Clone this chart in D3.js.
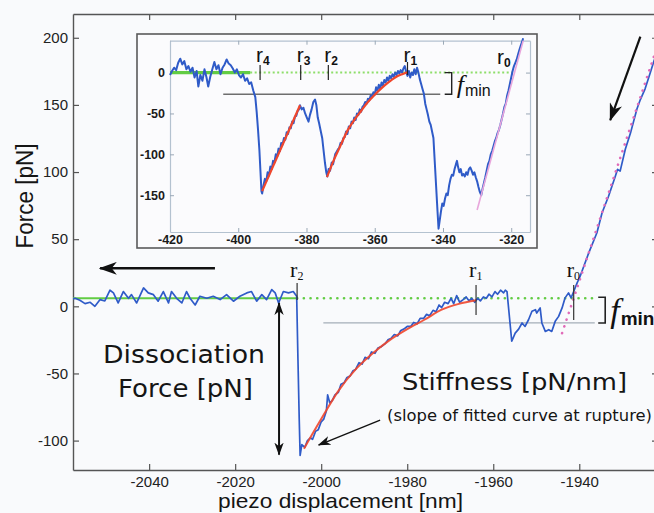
<!DOCTYPE html>
<html>
<head>
<meta charset="utf-8">
<script src="https://cdn.jsdelivr.net/npm/d3@7"></script>
<style>
  html, body { margin: 0; padding: 0; background: #f9fafc; }
  svg { display: block; }
  .tick text { font-family: "Liberation Sans", Arial, sans-serif; }
</style>
</head>
<body>
<script>
// ---- main curve data (piezo displacement nm, force pN) ----
const mainBaseline = [
  [-2058.4, 5], [-2057.2, 6], [-2056.1, 4.5], [-2054.9, 2], [-2053.7, 3], [-2052.6, 0],
  [-2051.4, 5], [-2050.3, 4], [-2049.1, 12], [-2048.3, 10], [-2047.2, 2.5], [-2046, 11],
  [-2044.8, 6], [-2044.1, 8.7], [-2042.9, 2.5], [-2041.3, 13.7], [-2040.2, 10], [-2039, 8.7],
  [-2037.9, 3.8], [-2036.7, 11], [-2035.5, 2.5], [-2034.8, 11], [-2033.6, 6], [-2032.4, 2.5],
  [-2031.3, 11], [-2030.5, 6], [-2029.3, 1], [-2028.2, 7.5], [-2026.6, 6], [-2025.1, 7.5],
  [-2023.5, 5], [-2022, 8.7], [-2020.4, 3.8], [-2018.9, 7.5], [-2017.3, 10], [-2016.2, 11],
  [-2015, 3.8], [-2013.8, 8.7], [-2012.7, 5], [-2011.5, 12.5], [-2010.7, 10], [-2009.9, 2.5],
  [-2008.8, 11], [-2007.6, 10], [-2006.5, 11], [-2005.7, 7.5]
];
const mainRupture = [
  [-2005.4, -40], [-2005.1, -85], [-2004.9, -111], [-2004.5, -103], [-2003.8, -105], [-2003.2, -100],
  [-2002.5, -98], [-2002, -99], [-2001.3, -93], [-2000.7, -92], [-2000, -86], [-1999.4, -84],
  [-1998.8, -78], [-1998.5, -66], [-1998, -72], [-1997.4, -70], [-1996.8, -66], [-1996, -64],
  [-1995.4, -58], [-1994.7, -57], [-1994, -53], [-1993.3, -52], [-1992.6, -48], [-1992, -47],
  [-1991.2, -42], [-1990.5, -43], [-1989.8, -38], [-1989, -39], [-1988.3, -34], [-1987.5, -35],
  [-1986.8, -31], [-1986, -30], [-1985.2, -28], [-1984.5, -25], [-1983.8, -24], [-1983, -21],
  [-1982.2, -22], [-1981.5, -18], [-1980.8, -17], [-1980, -15], [-1979.2, -15], [-1978.5, -12],
  [-1977.7, -13], [-1977, -9], [-1976.2, -9], [-1975.5, -6], [-1974.8, -7], [-1974, -3],
  [-1973.3, -4], [-1972.6, 1], [-1972, -1], [-1971.3, 3], [-1970.5, 2], [-1969.8, 6],
  [-1969.2, 2], [-1968.5, 8], [-1967.8, 3], [-1967, 5], [-1966.3, 7], [-1965.6, 4],
  [-1965, 6], [-1964.3, 3], [-1963.6, 6], [-1963, 4], [-1962.3, 7], [-1961.6, 6],
  [-1961, 9], [-1960.3, 7], [-1959.6, 11], [-1959, 9], [-1958.3, 12], [-1957.6, 10], [-1957.2, 12]
];
const mainApproach = [
  [-1956.8, 11], [-1955.7, -26], [-1954.9, -20], [-1954.1, -17], [-1953.3, -12.4], [-1952.6, -15],
  [-1951.8, -10], [-1951, -3.7], [-1950.2, -2.5], [-1949.9, -5], [-1949.1, -1.2], [-1948.7, -12.4],
  [-1947.9, -18.7], [-1947.1, -17.4], [-1946.4, -18.7], [-1945.6, -11.2], [-1944.8, -7.5], [-1944, -1.2],
  [-1943.3, 6.3], [-1942.5, 10], [-1941.9, 6.3], [-1941.3, 11], [-1940.5, 17.5], [-1939.8, 22.4],
  [-1937.8, 39.8], [-1935.9, 54.8], [-1934.7, 69.7], [-1933.2, 82], [-1931.6, 97], [-1931.1, 102],
  [-1930.5, 100.7], [-1929.3, 117], [-1928.1, 129], [-1926.6, 147], [-1925.8, 154], [-1924.7, 162],
  [-1923.5, 174], [-1922.6, 183], [-1921, 197]
];
const mainFit = [
  [-2004, -106], [-2000, -84], [-1996, -63], [-1992, -47], [-1988, -35], [-1984, -25],
  [-1980, -17], [-1976, -10], [-1972, -2.5], [-1968, 1.8], [-1964, 4.5]
];
const mainContact = [[-1944, -20], [-1921, 202]];
const mainZeroLevel = 6;
const mainFminLevel = -12.4;
const mainRuptures = [
  { label: "r", sub: "2", x: -2005.6 },
  { label: "r", sub: "1", x: -1964 },
  { label: "r", sub: "0", x: -1941.3 }
];
const mainXTicks = [-2040, -2020, -2000, -1980, -1960, -1940];
const mainYTicks = [-100, -50, 0, 50, 100, 150, 200];

// ---- inset data ----
const insetTrace = [
  [-420, -3], [-419.4, 2], [-418.8, 6], [-418.2, 3], [-417.6, 12], [-417, 17], [-416.4, 10],
  [-415.8, 14], [-415.2, 4], [-414.6, 8], [-414, 1], [-413.4, 6], [-412.8, -6], [-412.2, 2],
  [-411.7, -17], [-411.1, -3], [-410.5, -10], [-409.9, 4], [-409.3, -6], [-408.8, -17], [-408.2, -5],
  [-407.6, 4], [-407, 13], [-406.4, 4], [-405.8, 9], [-405.2, -2], [-404.6, 6], [-404, 10],
  [-403.4, 16], [-402.8, 11], [-402.2, 9], [-401.6, 5], [-401, 0], [-400.4, 4], [-399.8, -3],
  [-399.2, -6], [-398.6, -2], [-398, -10], [-397.4, -7], [-396.8, -14], [-396.2, -12], [-395.6, -22],
  [-395, -30], [-394.6, -48], [-394.2, -70], [-393.8, -95], [-393.5, -120], [-393.2, -145], [-393, -148],
  [-392.6, -138], [-392.2, -130], [-391.8, -133], [-391.4, -122], [-391, -126], [-390.6, -115],
  [-390.2, -118], [-389.8, -108], [-389.4, -110], [-389, -100], [-388.6, -103], [-388.2, -93],
  [-387.8, -96], [-387.4, -86], [-387, -88], [-386.6, -80], [-386.2, -82], [-385.8, -73],
  [-385.4, -75], [-385, -67], [-384.6, -68], [-384.2, -60], [-383.8, -62], [-383.4, -54],
  [-383, -53], [-382.6, -47], [-382.2, -45], [-381.9, -40], [-381.4, -45], [-380.9, -43],
  [-380.4, -50], [-379.9, -55], [-379.4, -60], [-379, -52], [-378.5, -45], [-378, -36],
  [-377.5, -33], [-377.1, -40], [-376.7, -55], [-376.3, -62], [-375.8, -72], [-375.4, -80],
  [-375, -95], [-374.6, -110], [-374.2, -122], [-373.9, -127], [-373.5, -118], [-373.1, -120],
  [-372.6, -110], [-372.2, -112], [-371.6, -100], [-371.2, -97], [-370.8, -94], [-370.4, -92],
  [-370, -86], [-369.6, -87], [-369.2, -80], [-368.8, -79], [-368.4, -72], [-368, -75],
  [-367.6, -66], [-367.2, -68], [-366.8, -60], [-366.4, -62], [-366, -55], [-365.6, -58],
  [-365.2, -50], [-364.8, -52], [-364.4, -45], [-364, -48], [-363.6, -42], [-363.2, -40],
  [-362.8, -36], [-362.4, -38], [-362, -32], [-361.6, -34], [-361.2, -28], [-360.8, -30],
  [-360.4, -24], [-360, -27], [-359.6, -18], [-359.2, -22], [-358.8, -15], [-358.4, -20],
  [-358, -12], [-357.6, -16], [-357.2, -9], [-356.8, -12], [-356.4, -6], [-356, -10],
  [-355.6, -4], [-355.2, -7], [-354.8, -2], [-354.4, -5], [-354, 0], [-353.6, -3],
  [-353.2, 2], [-352.8, -1], [-352.4, 3], [-352, 0], [-351.6, 5], [-351.2, 8],
  [-350.8, 1], [-350.4, -4], [-350, 2], [-349.6, -6], [-349.2, 0], [-348.8, -3],
  [-348.4, 4], [-348, -2], [-347.6, 6], [-347.2, 0], [-346.8, -8], [-346.4, -14],
  [-346, -20], [-345.6, -26], [-345.2, -38], [-344.8, -45], [-344.4, -52], [-344, -60],
  [-343.6, -64], [-343.2, -72], [-342.8, -80], [-342.4, -110], [-342, -140], [-341.6, -170],
  [-341.3, -191], [-341, -182], [-340.6, -170], [-340.2, -160], [-339.8, -163], [-339.4, -154],
  [-339, -148], [-338.6, -150], [-338.2, -138], [-337.8, -130], [-337.4, -125], [-337, -126],
  [-336.6, -118], [-336.2, -112], [-335.9, -108], [-335.6, -115], [-335.2, -122], [-334.8, -118],
  [-334.4, -126], [-334, -124], [-333.6, -127], [-333.2, -122], [-332.8, -125], [-332.4, -118],
  [-332, -116], [-331.6, -120], [-331.2, -125], [-330.8, -122], [-330.4, -128], [-330, -133],
  [-329.6, -140], [-329.2, -146], [-328.8, -150], [-328.4, -142], [-328, -135], [-327.6, -128],
  [-327.2, -120], [-326.8, -112], [-326.4, -108], [-326, -100], [-325.6, -96], [-325.2, -90],
  [-324.8, -84], [-324.4, -80], [-324, -74], [-323.6, -70], [-323.2, -64], [-322.8, -57],
  [-322.4, -50], [-322, -42], [-321.6, -38], [-321.2, -28], [-320.8, -22], [-320.4, -14],
  [-320, -6], [-319.6, 2], [-319.2, 8], [-318.8, 12], [-318.4, 16], [-318, 22],
  [-317.6, 28], [-317.2, 33], [-316.8, 38], [-316.5, 42]
];
const insetFit1 = [[-393, -145], [-381.9, -40]];
const insetFit2 = [
  [-374, -128], [-372, -107], [-370, -89], [-368, -71], [-366, -58], [-364, -47], [-362, -36],
  [-360, -27], [-358, -19], [-356, -12], [-354, -6], [-352, -2], [-350.5, 0.5]
];
const insetContact = [[-330, -168], [-316.5, 39]];
const insetFminLevel = -26.5;
const insetRuptures = [
  { sub: "4", x: -393.6 }, { sub: "3", x: -381.7 }, { sub: "2", x: -373.6 }, { sub: "1", x: -350.4 }
];
const insetXTicks = [-420, -400, -380, -360, -340, -320];
const insetYTicks = [0, -50, -100, -150];

// ---- drawing ----
const W = 654, H = 513;
const sans = '"Liberation Sans", Arial, sans-serif';
const wide = '"DejaVu Sans", Verdana, sans-serif';
const serif = '"Liberation Serif", "Times New Roman", serif';
const blue = "#2f5bc8", red = "#f0462c", green = "#62cc44", pink = "#e06ab8";
const fmt = d => String(d);

const svg = d3.select("body").append("svg")
  .attr("width", W).attr("height", H)
  .style("background", "#f9fafc");

const defs = svg.append("defs");
defs.append("marker").attr("id", "head")
  .attr("viewBox", "0 0 14 10").attr("refX", 13).attr("refY", 5)
  .attr("markerUnits", "userSpaceOnUse").attr("markerWidth", 18).attr("markerHeight", 13)
  .attr("orient", "auto-start-reverse")
  .append("path").attr("d", "M0,0 L14,5 L0,10 L4,5 Z").attr("fill", "#111");
defs.append("marker").attr("id", "headSmall")
  .attr("viewBox", "0 0 14 10").attr("refX", 13).attr("refY", 5)
  .attr("markerUnits", "userSpaceOnUse").attr("markerWidth", 13).attr("markerHeight", 10)
  .attr("orient", "auto-start-reverse")
  .append("path").attr("d", "M0,0 L14,5 L0,10 L4,5 Z").attr("fill", "#111");
defs.append("clipPath").attr("id", "mainClip")
  .append("rect").attr("x", 73).attr("y", 14).attr("width", 585).attr("height", 456);

const x = d3.scaleLinear().domain([-2057.7, -1921.7]).range([73, 658]);
const y = d3.scaleLinear().domain([-121.9, 217.7]).range([470, 14]);
const line = d3.line().x(d => x(d[0])).y(d => y(d[1]));

// main axes (ticks inward)
function styleAxis(g, size) {
  g.select(".domain").attr("stroke", "#555").attr("stroke-width", 1.4);
  g.selectAll(".tick line").attr("stroke", "#555").attr("stroke-width", 1.2);
  g.selectAll(".tick text").attr("fill", "#222").style("font-size", size + "px");
}
svg.append("g").attr("transform", "translate(0,470)")
  .call(d3.axisBottom(x).tickValues(mainXTicks).tickFormat(fmt).tickSizeInner(-6).tickSizeOuter(0).tickPadding(6))
  .call(g => styleAxis(g, 15));
svg.append("g").attr("transform", "translate(0,14)")
  .call(d3.axisTop(x).tickValues(mainXTicks).tickSizeInner(-6).tickSizeOuter(0).tickFormat(""))
  .call(g => styleAxis(g, 15));
svg.append("g").attr("transform", "translate(73,0)")
  .call(d3.axisLeft(y).tickValues(mainYTicks).tickFormat(fmt).tickSizeInner(-6).tickSizeOuter(0).tickPadding(5))
  .call(g => styleAxis(g, 15));
svg.append("g").attr("transform", "translate(658,0)")
  .call(d3.axisRight(y).tickValues(mainYTicks).tickSizeInner(-6).tickSizeOuter(0).tickFormat(""))
  .call(g => styleAxis(g, 15));

const main = svg.append("g").attr("clip-path", "url(#mainClip)");

// reference levels
main.append("line")
  .attr("x1", x(-1999.5)).attr("x2", x(-1936.4)).attr("y1", y(mainFminLevel)).attr("y2", y(mainFminLevel))
  .attr("stroke", "#a4aeb8").attr("stroke-width", 1.3);
main.append("line")
  .attr("x1", x(-2057.7)).attr("x2", x(-2005.6)).attr("y1", y(mainZeroLevel)).attr("y2", y(mainZeroLevel))
  .attr("stroke", green).attr("stroke-width", 2);
main.append("line")
  .attr("x1", x(-2005.6)).attr("x2", x(-1935.6)).attr("y1", y(mainZeroLevel)).attr("y2", y(mainZeroLevel))
  .attr("stroke", green).attr("stroke-width", 2.6).attr("stroke-dasharray", "0.1 6.6")
  .attr("stroke-linecap", "round");

// blue trace
main.append("path").datum(mainBaseline.concat(mainRupture, mainApproach))
  .attr("d", line).attr("fill", "none").attr("stroke", blue).attr("stroke-width", 1.7)
  .attr("stroke-linejoin", "round");
// fitted curve
main.append("path").datum(mainFit)
  .attr("d", line.curve(d3.curveMonotoneX)).attr("fill", "none").attr("stroke", red)
  .attr("stroke-width", 2).attr("opacity", 0.9);
line.curve(d3.curveLinear);
// contact line (pink dotted)
main.append("path").datum(mainContact)
  .attr("d", line).attr("fill", "none").attr("stroke", pink).attr("stroke-width", 2.6)
  .attr("stroke-dasharray", "0.1 7").attr("stroke-linecap", "round");

// rupture markers
mainRuptures.forEach((r, i) => {
  const top = i === 0 ? 283 : 285, bot = i === 0 ? 300 : (i === 1 ? 315 : 320);
  svg.append("line").attr("x1", x(r.x)).attr("x2", x(r.x)).attr("y1", top).attr("y2", bot)
    .attr("stroke", "#333").attr("stroke-width", 1.2);
  const t = svg.append("text").attr("x", x(r.x) - 7).attr("y", 277)
    .attr("font-family", serif).attr("font-size", 22).attr("fill", "#111");
  t.append("tspan").text(r.label);
  t.append("tspan").attr("dy", 3).attr("font-size", 12).text(r.sub);
});

// f_min bracket (main)
const bx = x(-1935.6);
svg.append("path")
  .attr("d", `M${bx},${y(mainZeroLevel) - 1}H${bx + 7}V${y(mainFminLevel)}H${bx}`)
  .attr("fill", "none").attr("stroke", "#222").attr("stroke-width", 1.6);
const fm = svg.append("text").attr("x", bx + 12).attr("y", 322).attr("fill", "#111");
fm.append("tspan").attr("font-family", serif).attr("font-style", "italic").attr("font-size", 34).text("f");
fm.append("tspan").attr("font-family", sans).attr("font-weight", "bold").attr("font-size", 19).attr("dx", 1).attr("dy", 3).text("min");

// arrows
function arrow(p0, p1, w, m) {
  svg.append("line").attr("x1", x(p0[0])).attr("y1", y(p0[1])).attr("x2", x(p1[0])).attr("y2", y(p1[1]))
    .attr("stroke", "#111").attr("stroke-width", w).attr("marker-end", `url(#${m})`);
}
arrow([-2024.7, 28.3], [-2051.4, 28.3], 2.6, "head");
arrow([-1925.8, 200.8], [-1932.8, 138.7], 2.2, "head");
svg.append("line").attr("x1", x(-2009.8)).attr("x2", x(-2009.8)).attr("y1", y(2.5)).attr("y2", y(-110.5))
  .attr("stroke", "#111").attr("stroke-width", 2)
  .attr("marker-start", "url(#headSmall)").attr("marker-end", "url(#headSmall)");
arrow([-1986.3, -84.7], [-2000.6, -103.3], 1.4, "headSmall");

// annotation texts
function label(txt, xp, yp, size, len, family) {
  svg.append("text").attr("x", xp).attr("y", yp)
    .attr("font-family", family || wide).attr("font-size", size).attr("fill", "#151515")
    .attr("textLength", len).attr("lengthAdjust", "spacingAndGlyphs").text(txt);
}
label("Dissociation", 103, 363, 24, 162);
label("Force [pN]", 118, 397, 24, 135);
label("Stiffness [pN/nm]", 402, 390, 23, 225);
label("(slope of fitted curve at rupture)", 387, 421, 15, 265);
label("piezo displacement [nm]", 218, 508, 21, 245, sans);
svg.append("text").attr("transform", "translate(33,196) rotate(-90)").attr("text-anchor", "middle")
  .attr("font-family", sans).attr("font-size", 23).attr("fill", "#151515")
  .attr("textLength", 105).attr("lengthAdjust", "spacingAndGlyphs").text("Force [pN]");

// ---- inset ----
svg.append("rect").attr("x", 137).attr("y", 34).attr("width", 400).attr("height", 214)
  .attr("fill", "#fbfbfd").attr("stroke", "#5a5a5a").attr("stroke-width", 1.6);

const ix = d3.scaleLinear().domain([-420, -314.5]).range([170, 530]);
const iy = d3.scaleLinear().domain([-195, 39]).range([232, 40.7]);
const iline = d3.line().x(d => ix(d[0])).y(d => iy(d[1]));

function styleInset(g) {
  g.select(".domain").attr("stroke", "#b4c2d0").attr("stroke-width", 1.2);
  g.selectAll(".tick line").attr("stroke", "#9aa8b6").attr("stroke-width", 1);
  g.selectAll(".tick text").attr("fill", "#1a1a1a").style("font-size", "12.5px").style("font-weight", "bold");
}
svg.append("g").attr("transform", "translate(0,232)")
  .call(d3.axisBottom(ix).tickValues(insetXTicks).tickFormat(fmt).tickSizeInner(-4).tickSizeOuter(0).tickPadding(3))
  .call(styleInset);
svg.append("g").attr("transform", "translate(0,40.7)")
  .call(d3.axisTop(ix).tickValues(insetXTicks).tickSizeInner(-4).tickSizeOuter(0).tickFormat(""))
  .call(styleInset);
svg.append("g").attr("transform", "translate(170,0)")
  .call(d3.axisLeft(iy).tickValues(insetYTicks).tickFormat(fmt).tickSizeInner(-4).tickSizeOuter(0).tickPadding(5))
  .call(styleInset);
svg.append("g").attr("transform", "translate(530,0)")
  .call(d3.axisRight(iy).tickValues(insetYTicks).tickSizeInner(-4).tickSizeOuter(0).tickFormat(""))
  .call(styleInset);

const inset = svg.append("g");
inset.append("line").attr("x1", ix(-404.4)).attr("x2", ix(-340.8))
  .attr("y1", iy(insetFminLevel)).attr("y2", iy(insetFminLevel))
  .attr("stroke", "#6e6e6e").attr("stroke-width", 1.3);
inset.append("line").attr("x1", ix(-396.5)).attr("x2", ix(-319.5)).attr("y1", iy(0)).attr("y2", iy(0))
  .attr("stroke", "#8ede6a").attr("stroke-width", 2).attr("stroke-dasharray", "2 2.5");
inset.append("line").attr("x1", ix(-420)).attr("x2", ix(-396.5)).attr("y1", iy(0)).attr("y2", iy(0))
  .attr("stroke", green).attr("stroke-width", 3.2);
inset.append("path").datum(insetTrace).attr("d", iline)
  .attr("fill", "none").attr("stroke", blue).attr("stroke-width", 2).attr("stroke-linejoin", "round");
inset.append("path").datum(insetContact).attr("d", iline)
  .attr("fill", "none").attr("stroke", "#e8a6dc").attr("stroke-width", 1.6);
inset.append("path").datum(insetFit1).attr("d", iline)
  .attr("fill", "none").attr("stroke", red).attr("stroke-width", 2.2);
inset.append("path").datum(insetFit2).attr("d", iline.curve(d3.curveMonotoneX))
  .attr("fill", "none").attr("stroke", red).attr("stroke-width", 2.2);

insetRuptures.forEach(r => {
  const xp = ix(r.x);
  inset.append("line").attr("x1", xp).attr("x2", xp)
    .attr("y1", r.sub === "1" ? 62 : 65).attr("y2", r.sub === "1" ? 75 : 80)
    .attr("stroke", "#222").attr("stroke-width", 1.2);
  const t = inset.append("text").attr("x", xp - 4).attr("y", 62)
    .attr("font-family", sans).attr("font-size", 21).attr("fill", "#111");
  t.append("tspan").text("r");
  t.append("tspan").attr("dy", 2.5).attr("font-size", 12).attr("font-weight", "bold").text(r.sub);
});
const r0 = inset.append("text").attr("x", 497).attr("y", 64)
  .attr("font-family", sans).attr("font-size", 21).attr("fill", "#111");
r0.append("tspan").text("r");
r0.append("tspan").attr("dy", 2.5).attr("font-size", 12).attr("font-weight", "bold").text("0");

const ibx = ix(-339.5);
inset.append("path")
  .attr("d", `M${ibx},${iy(0)}H${ibx + 7}V${iy(insetFminLevel)}H${ibx}`)
  .attr("fill", "none").attr("stroke", "#222").attr("stroke-width", 1.4);
const ifm = inset.append("text").attr("x", ibx + 12).attr("y", 93).attr("fill", "#111");
ifm.append("tspan").attr("font-family", serif).attr("font-style", "italic").attr("font-size", 26).text("f");
ifm.append("tspan").attr("font-family", sans).attr("font-size", 16).attr("dx", 1).attr("dy", 3).text("min");
</script>
</body>
</html>
